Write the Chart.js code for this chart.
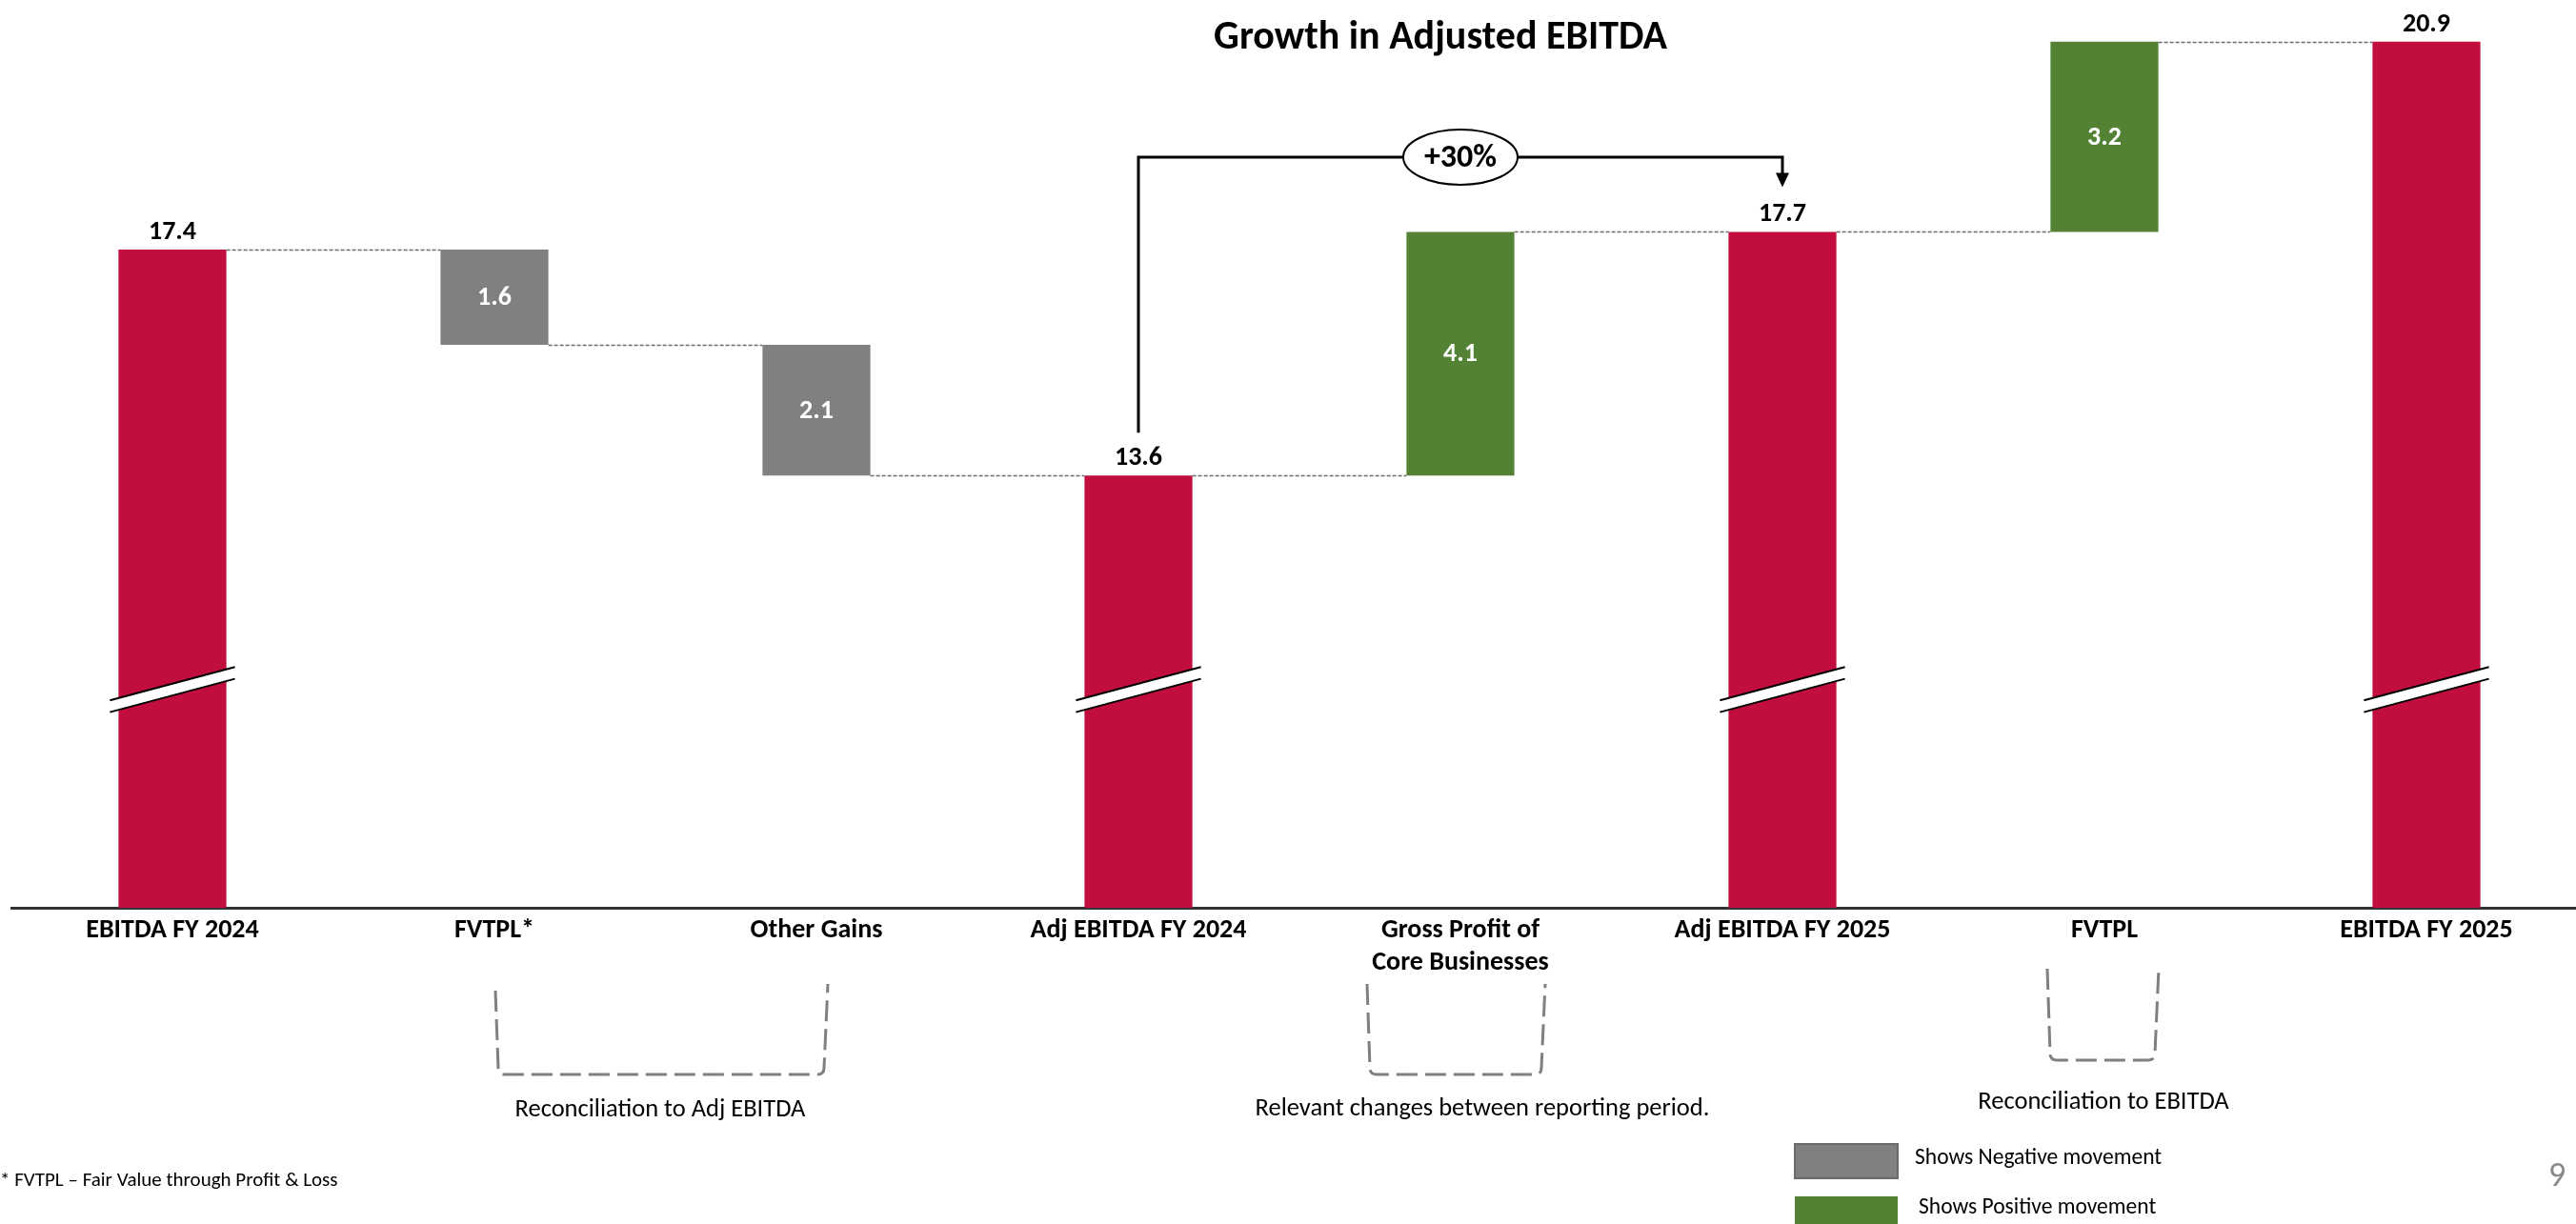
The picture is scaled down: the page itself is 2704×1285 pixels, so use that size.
<!DOCTYPE html>
<html>
<head>
<meta charset="utf-8">
<script src="https://cdn.jsdelivr.net/npm/chart.js@4.4.1/dist/chart.umd.min.js"></script>
<style>
  html, body { margin: 0; padding: 0; background: #fff; overflow: hidden; }
  #wrap { position: relative; width: 2716px; height: 1285px; }
  canvas { display: block; }
</style>
</head>
<body>
<div id="wrap"><canvas id="ebitda-chart" width="2716" height="1285"></canvas></div>
<script>
// chart data
const categories = [
  'EBITDA FY 2024',
  'FVTPL*',
  'Other Gains',
  'Adj EBITDA FY 2024',
  ['Gross Profit of', 'Core Businesses'],
  'Adj EBITDA FY 2025',
  'FVTPL',
  'EBITDA FY 2025'
];
const amounts = [17.4, -1.6, -2.1, 13.6, 4.1, 17.7, 3.2, 20.9];
const barKinds = ['total', 'change', 'change', 'total', 'change', 'total', 'change', 'total'];

// broken value axis: bottom of the plot is not zero
const axisFloor = 6.33;
const axisCeiling = 21.6;
const breakLevel = 10;

const noteTexts = [
  'Reconciliation to Adj EBITDA',
  'Relevant changes between reporting period.',
  'Reconciliation to EBITDA'
];
const legendTexts = ['Shows Negative movement', 'Shows Positive movement'];
const footnote = '* FVTPL \u2013 Fair Value through Profit & Loss';
const chartTitle = 'Growth in Adjusted EBITDA';

const RED = '#C20E3E';
const GRAY = '#808080';
const GREEN = '#548235';
const FONT = "Carlito, Lato, 'Open Sans', sans-serif";

// floating ranges for the waterfall
// (labels are rounded, so a step right before a total closes on that total)
const levels = [];
let running = 0;
const ranges = amounts.map((v, i) => {
  if (barKinds[i] === 'total') {
    running = v;
    levels.push(running);
    return [axisFloor, v];
  }
  const start = running;
  running = barKinds[i + 1] === 'total' ? amounts[i + 1] : start + v;
  levels.push(running);
  return [Math.min(start, running), Math.max(start, running)];
});
const barColors = amounts.map((v, i) => {
  if (barKinds[i] === 'total') return RED;
  return v < 0 ? GRAY : GREEN;
});

const dashedBracket = (ctx, left, right, topL, topR, bottom) => {
  const r = 7;
  ctx.beginPath();
  ctx.moveTo(left, topL);
  ctx.lineTo(left + 3, bottom - r);
  ctx.quadraticCurveTo(left + 3, bottom, left + 3 + r, bottom);
  ctx.lineTo(right - 4 - r, bottom);
  ctx.quadraticCurveTo(right - 4, bottom, right - 4, bottom - r);
  ctx.lineTo(right, topR);
  ctx.stroke();
};

const waterfallDecor = {
  id: 'waterfallDecor',
  afterDatasetsDraw(chart) {
    const { ctx, scales: { y } } = chart;
    const bars = chart.getDatasetMeta(0).data;
    ctx.save();

    // dotted connectors between bars
    ctx.strokeStyle = '#6a6a6a';
    ctx.lineWidth = 1.5;
    ctx.setLineDash([4, 2]);
    for (let i = 0; i < bars.length - 1; i++) {
      const yy = Math.round(y.getPixelForValue(levels[i])) + 0.5;
      ctx.beginPath();
      ctx.moveTo(bars[i].x + bars[i].width / 2, yy);
      ctx.lineTo(bars[i + 1].x - bars[i + 1].width / 2, yy);
      ctx.stroke();
    }
    ctx.setLineDash([]);

    // axis break marks on total bars
    const c = y.getPixelForValue(breakLevel);
    bars.forEach((bar, i) => {
      if (barKinds[i] !== 'total') return;
      const l = bar.x - bar.width / 2 - 9;
      const rr = bar.x + bar.width / 2 + 9;
      const rise = 17.5;
      const gap = 6.2;
      ctx.fillStyle = '#fff';
      ctx.beginPath();
      ctx.moveTo(l, c - gap + rise);
      ctx.lineTo(rr, c - gap - rise);
      ctx.lineTo(rr, c + gap - rise);
      ctx.lineTo(l, c + gap + rise);
      ctx.closePath();
      ctx.fill();
      ctx.strokeStyle = '#000';
      ctx.lineWidth = 2;
      ctx.beginPath();
      ctx.moveTo(l, c - gap + rise);
      ctx.lineTo(rr, c - gap - rise);
      ctx.moveTo(l, c + gap + rise);
      ctx.lineTo(rr, c + gap - rise);
      ctx.stroke();
    });

    // value labels
    ctx.textAlign = 'center';
    ctx.textBaseline = 'middle';
    ctx.font = `bold 28px ${FONT}`;
    bars.forEach((bar, i) => {
      const txt = Math.abs(amounts[i]).toFixed(1);
      if (barKinds[i] === 'total') {
        ctx.fillStyle = '#000';
        ctx.fillText(txt, bar.x, bar.y - 18);
      } else {
        ctx.fillStyle = '#fff';
        ctx.fillText(txt, bar.x, (bar.y + bar.base) / 2 + 1);
      }
    });

    // growth bracket between the two adjusted totals
    const a = bars[3];
    const b = bars[5];
    const topY = 165;
    ctx.strokeStyle = '#000';
    ctx.lineWidth = 3;
    ctx.beginPath();
    ctx.moveTo(a.x, a.y - 45);
    ctx.lineTo(a.x, topY);
    ctx.lineTo(b.x, topY);
    ctx.lineTo(b.x, b.y - 60);
    ctx.stroke();
    ctx.fillStyle = '#000';
    ctx.beginPath();
    ctx.moveTo(b.x - 7, b.y - 62);
    ctx.lineTo(b.x + 7, b.y - 62);
    ctx.lineTo(b.x, b.y - 47);
    ctx.closePath();
    ctx.fill();

    const mid = bars[4].x;
    ctx.fillStyle = '#fff';
    ctx.lineWidth = 2;
    ctx.beginPath();
    ctx.ellipse(mid, topY, 60, 29, 0, 0, Math.PI * 2);
    ctx.fill();
    ctx.stroke();
    const growth = Math.round((amounts[5] / amounts[3] - 1) * 100);
    ctx.fillStyle = '#000';
    ctx.font = `bold 34px ${FONT}`;
    ctx.fillText(`+${growth}%`, mid, topY + 1);

    ctx.restore();
  },
  afterDraw(chart) {
    const { ctx } = chart;
    ctx.save();
    ctx.textBaseline = 'middle';

    // title
    ctx.textAlign = 'center';
    ctx.fillStyle = '#000';
    ctx.font = `bold 42px ${FONT}`;
    ctx.fillText(chartTitle, 1512, 40);

    // dashed brackets under categories
    ctx.strokeStyle = '#7f7f7f';
    ctx.lineWidth = 3;
    ctx.setLineDash([22, 8]);
    dashedBracket(ctx, 520, 869, 1040, 1033, 1128);
    dashedBracket(ctx, 1435, 1622, 1033, 1033, 1128);
    dashedBracket(ctx, 2149, 2266, 1017, 1017, 1113);
    ctx.setLineDash([]);

    // notes
    ctx.fillStyle = '#000';
    ctx.font = `26.5px ${FONT}`;
    ctx.fillText(noteTexts[0], 693, 1165);
    ctx.fillText(noteTexts[1], 1556, 1164);
    ctx.fillText(noteTexts[2], 2208, 1157);

    // footnote
    ctx.textAlign = 'left';
    ctx.font = `21px ${FONT}`;
    ctx.fillText(footnote, 0, 1240);

    // legend
    ctx.fillStyle = GRAY;
    ctx.fillRect(1884, 1201, 108, 36);
    ctx.strokeStyle = '#6b6b6b';
    ctx.lineWidth = 2;
    ctx.strokeRect(1884, 1201, 108, 36);
    ctx.fillStyle = GREEN;
    ctx.fillRect(1884, 1256, 108, 36);
    ctx.fillStyle = '#000';
    ctx.font = `23.5px ${FONT}`;
    ctx.fillText(legendTexts[0], 2010, 1216);
    ctx.fillText(legendTexts[1], 2014, 1268);

    // page number
    ctx.textAlign = 'center';
    ctx.fillStyle = '#8a8a8a';
    ctx.font = `36px ${FONT}`;
    ctx.fillText('9', 2684, 1236);

    ctx.restore();
  }
};

const ctx = document.getElementById('ebitda-chart');
new Chart(ctx, {
  type: 'bar',
  data: {
    labels: categories,
    datasets: [{
      data: ranges,
      backgroundColor: barColors,
      borderWidth: 0,
      barPercentage: 0.335,
      categoryPercentage: 1
    }]
  },
  options: {
    responsive: false,
    animation: false,
    layout: { padding: { left: 12, right: 0, top: 0, bottom: 0 } },
    plugins: {
      legend: { display: false },
      tooltip: { enabled: false },
      title: { display: false }
    },
    scales: {
      x: {
        grid: { display: false, drawTicks: false },
        border: { display: true, color: '#333333', width: 3 },
        ticks: {
          color: '#000',
          autoSkip: false,
          maxRotation: 0,
          padding: 7,
          font: { family: FONT, size: 28, weight: 'bold', lineHeight: 1.22 }
        },
        afterFit: (scale) => { scale.height = 332; }
      },
      y: {
        display: false,
        min: axisFloor,
        max: axisCeiling
      }
    }
  },
  plugins: [waterfallDecor]
});
</script>
</body>
</html>
